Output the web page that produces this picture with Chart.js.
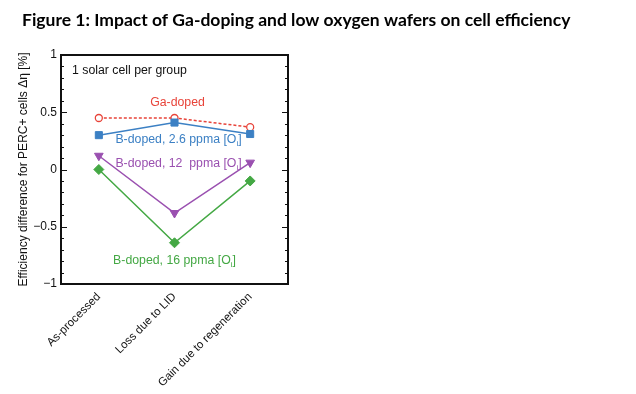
<!DOCTYPE html>
<html>
<head>
<meta charset="utf-8">
<script src="https://cdn.jsdelivr.net/npm/chart.js@4.4.1/dist/chart.umd.min.js"></script>
<style>
  html, body { margin: 0; padding: 0; background: #fff; }
  #wrap { width: 636px; height: 394px; }
</style>
</head>
<body>
<div id="wrap"><canvas id="effChart" width="636" height="394"></canvas></div>
<script>
// Chart data
const categories = ['As-processed', 'Loss due to LID', 'Gain due to regeneration'];
const gaDoped = [0.45, 0.45, 0.37];
const bDoped26 = [0.30, 0.41, 0.31];
const bDoped12 = [0.12, -0.38, 0.06];
const bDoped16 = [0.00, -0.64, -0.10];
const yTickLabels = ['\u22121', '\u22120.5', '0', '0.5', '1'];

const RED = '#e8443a';
const BLUE = '#3c80c4';
const PURPLE = '#9a50b0';
const GREEN = '#44a844';

// Figure title, drawn left-aligned across the whole canvas
const figureTitle = {
  id: 'figureTitle',
  afterDraw(chart) {
    const ctx = chart.ctx;
    ctx.save();
    ctx.fillStyle = '#000';
    ctx.font = 'bold 17.5px Lato';
    ctx.textBaseline = 'middle';
    ctx.textAlign = 'left';
    ctx.fillText('Figure 1: Impact of Ga-doping and low oxygen wafers on cell efficiency', 22, 20);
    ctx.restore();
  }
};

// Box around the plot plus inward ticks on left and right
const frameTicks = {
  id: 'frameTicks',
  afterDatasetsDraw(chart) {
    const { ctx, chartArea: a, scales: { y } } = chart;
    ctx.save();
    ctx.strokeStyle = '#111';
    ctx.lineWidth = 1;
    for (let i = -10; i <= 10; i++) {
      const py = Math.round(y.getPixelForValue(i / 10)) + 0.5;
      const len = i % 5 === 0 ? 6 : 3;
      ctx.beginPath();
      ctx.moveTo(a.left, py); ctx.lineTo(a.left + len, py);
      ctx.moveTo(a.right, py); ctx.lineTo(a.right - len, py);
      ctx.stroke();
    }
    ctx.lineWidth = 2;
    ctx.strokeRect(a.left, a.top, a.right - a.left, a.bottom - a.top);
    ctx.restore();
  }
};

// Series names and note written inside the plot
function drawSubLabel(ctx, main, sub, tail, cx, cy, color) {
  ctx.fillStyle = color;
  ctx.font = '12.3px "Liberation Sans"';
  const w1 = ctx.measureText(main).width;
  ctx.font = '8px "Liberation Sans"';
  const w2 = ctx.measureText(sub).width;
  ctx.font = '12.3px "Liberation Sans"';
  const w3 = ctx.measureText(tail).width;
  let x = cx - (w1 + w2 + w3) / 2;
  ctx.textAlign = 'left';
  ctx.textBaseline = 'middle';
  ctx.fillText(main, x, cy);
  x += w1;
  ctx.font = '8px "Liberation Sans"';
  ctx.fillText(sub, x, cy + 4);
  x += w2;
  ctx.font = '12.3px "Liberation Sans"';
  ctx.fillText(tail, x, cy);
}

const seriesLabels = {
  id: 'seriesLabels',
  afterDatasetsDraw(chart) {
    const { ctx, chartArea: a, scales: { x, y } } = chart;
    const mid = x.getPixelForValue(1);
    ctx.save();
    ctx.font = '12.3px "Liberation Sans"';
    ctx.textBaseline = 'middle';
    ctx.textAlign = 'left';
    ctx.fillStyle = '#111';
    ctx.fillText('1 solar cell per group', a.left + 11, y.getPixelForValue(0.86));
    ctx.textAlign = 'center';
    ctx.fillStyle = RED;
    ctx.fillText('Ga-doped', mid + 3, y.getPixelForValue(0.585));
    drawSubLabel(ctx, 'B-doped, 2.6 ppma [O', 'i', ']', mid + 4, y.getPixelForValue(0.26), BLUE);
    drawSubLabel(ctx, 'B-doped, 12  ppma [O', 'i', ']', mid + 4, y.getPixelForValue(0.05), PURPLE);
    drawSubLabel(ctx, 'B-doped, 16 ppma [O', 'i', ']', mid, y.getPixelForValue(-0.80), GREEN);
    ctx.restore();
  }
};

new Chart(document.getElementById('effChart').getContext('2d'), {
  type: 'line',
  data: {
    labels: categories,
    datasets: [
      {
        label: 'B-doped, 16 ppma [Oi]',
        data: bDoped16,
        borderColor: GREEN,
        backgroundColor: GREEN,
        borderWidth: 1.5,
        pointStyle: 'rectRot',
        pointRadius: 5,
        pointBorderWidth: 1
      },
      {
        label: 'B-doped, 12 ppma [Oi]',
        data: bDoped12,
        borderColor: PURPLE,
        backgroundColor: PURPLE,
        borderWidth: 1.5,
        pointStyle: 'triangle',
        pointRotation: 180,
        pointRadius: 5,
        pointBorderWidth: 1
      },
      {
        label: 'B-doped, 2.6 ppma [Oi]',
        data: bDoped26,
        borderColor: BLUE,
        backgroundColor: BLUE,
        borderWidth: 1.5,
        pointStyle: 'rect',
        pointRadius: 5,
        pointBorderWidth: 1
      },
      {
        label: 'Ga-doped',
        data: gaDoped,
        borderColor: RED,
        backgroundColor: '#fff',
        borderWidth: 1.5,
        borderDash: [3, 2],
        pointStyle: 'circle',
        pointRadius: 3.5,
        pointBorderWidth: 1.3
      }
    ]
  },
  options: {
    responsive: false,
    animation: false,
    layout: { padding: { left: 16, right: 348, top: 55, bottom: 0 } },
    plugins: {
      legend: { display: false },
      tooltip: { enabled: false }
    },
    scales: {
      x: {
        offset: true,
        grid: { display: false, drawTicks: false },
        border: { display: false },
        ticks: {
          color: '#111',
          font: { family: 'Liberation Sans', size: 11.5 },
          minRotation: 45,
          maxRotation: 45,
          padding: 6
        },
        afterFit(scale) { scale.height = 110; }
      },
      y: {
        min: -1,
        max: 1,
        grid: { display: false, drawTicks: false },
        border: { display: false },
        ticks: {
          stepSize: 0.5,
          padding: 4,
          color: '#111',
          font: { family: 'Liberation Sans', size: 12 },
          callback: (v, i) => yTickLabels[i]
        },
        title: {
          display: true,
          text: 'Efficiency difference for PERC+ cells \u0394\u03b7 [%]',
          color: '#111',
          font: { family: 'Liberation Sans', size: 12 },
          padding: 0
        },
        afterFit(scale) { scale.width = 45; }
      }
    }
  },
  plugins: [figureTitle, frameTicks, seriesLabels]
});
</script>
</body>
</html>
